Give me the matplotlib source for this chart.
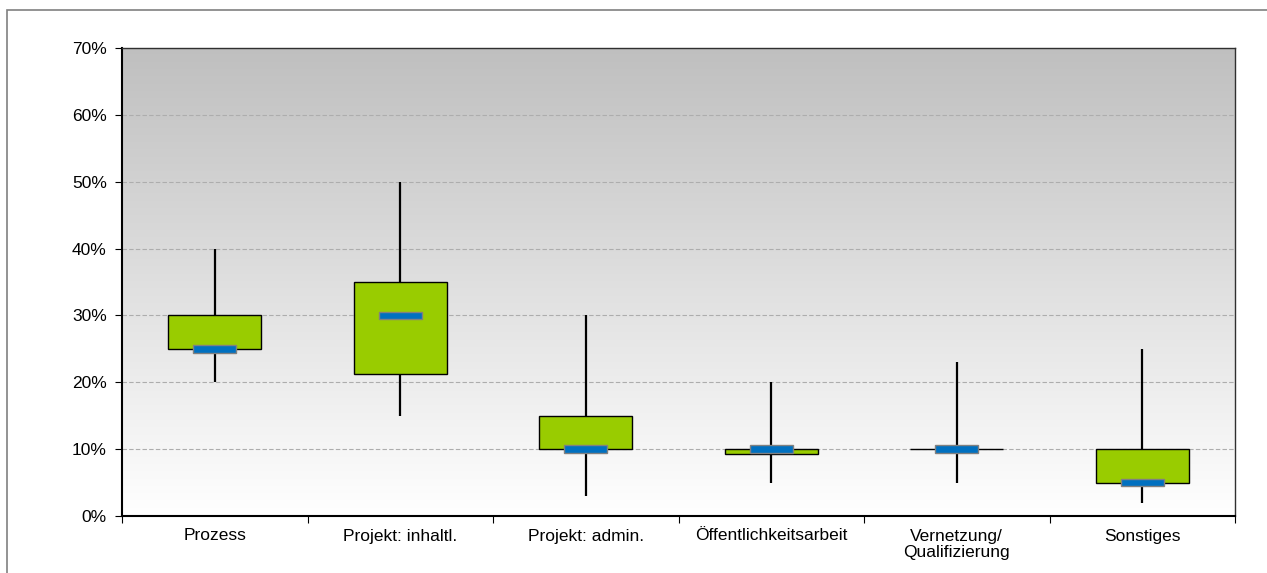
import numpy as np
import matplotlib.pyplot as plt
from matplotlib.patches import Rectangle

plt.rcParams['font.family'] = ['Liberation Sans', 'DejaVu Sans']

categories = ['Prozess', 'Projekt: inhaltl.', 'Projekt: admin.',
              'Öffentlichkeitsarbeit', 'Vernetzung/\nQualifizierung', 'Sonstiges']
whisker_low = [20, 15, 3, 5, 5, 2]
whisker_high = [40, 50, 30, 20, 23, 25]
box_low = [25, 21.3, 10, 9.3, 10, 5]
box_high = [30, 35, 15, 10, 10, 10]
medians = [25, 30, 10, 10, 10, 5]
y_ticks = [0, 10, 20, 30, 40, 50, 60, 70]

W, H = 1267, 573
fig = plt.figure(figsize=(W / 100, H / 100), dpi=100)

# outer frame of the chart
fig.patches.append(Rectangle((7 / W, -0.1), 1.2, (573 - 10) / H + 0.1,
                             transform=fig.transFigure, fill=False,
                             edgecolor='#808080', linewidth=1.2))

ax = fig.add_axes([122 / W, (573 - 516) / H, (1235 - 122) / W, (516 - 48) / H])
n = len(categories)
x = np.arange(n)
ax.set_xlim(-0.5, n - 0.5)
ax.set_ylim(0, 70)

# gray-to-white gradient background
grad = np.linspace(1.0, 0.0, 256).reshape(-1, 1)
top = np.array([0.75, 0.75, 0.75])
bot = np.array([1.0, 1.0, 1.0])
img = bot + (top - bot) * grad[..., None]
ax.imshow(img, extent=(-0.5, n - 0.5, 0, 70), aspect='auto', zorder=0,
          origin='upper', interpolation='bilinear')

for t in y_ticks[1:-1]:
    ax.axhline(t, color='#adadad', linestyle=(0, (4, 2)), linewidth=0.8, zorder=1)

ax.vlines(x, whisker_low, whisker_high, color='black', linewidth=1.6, zorder=2)
heights = [h - l for h, l in zip(box_high, box_low)]
ax.bar(x, heights, bottom=box_low, width=0.5, color='#99cc00',
       edgecolor='black', linewidth=1.0, zorder=3)
ax.bar(x, 1.1, bottom=[m - 0.55 for m in medians], width=0.23,
       color='#0070c0', edgecolor='#808080', linewidth=1.0, zorder=4)

ax.set_yticks(y_ticks)
ax.set_yticklabels([f'{t}%' for t in y_ticks], fontsize=12.5)
ax.set_xticks(np.arange(n + 1) - 0.5, minor=False)
ax.set_xticklabels([])
ax.set_xticks(x, minor=True)
ax.set_xticklabels(categories, minor=True, fontsize=12.5, linespacing=1.12)
ax.tick_params(axis='x', which='minor', length=0, pad=9)
ax.tick_params(axis='x', which='major', length=5, direction='out')
ax.tick_params(axis='y', length=5, direction='out', pad=6)

for s in ['left', 'bottom']:
    ax.spines[s].set_linewidth(1.5)
for s in ['top', 'right']:
    ax.spines[s].set_linewidth(1.0)
    ax.spines[s].set_color('#303030')

fig.savefig('out.png', dpi=100)
